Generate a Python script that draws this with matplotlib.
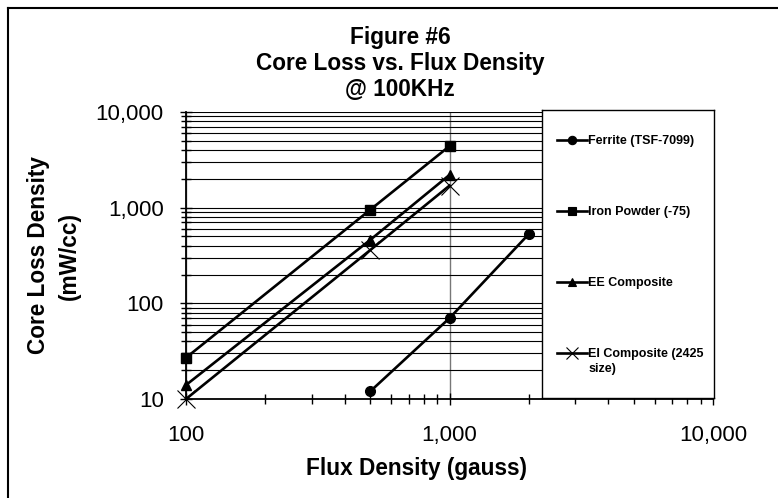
import numpy as np
import matplotlib
matplotlib.use("Agg")
import matplotlib.pyplot as plt
from matplotlib.ticker import LogLocator, FuncFormatter, NullFormatter
from matplotlib.lines import Line2D

plt.rcParams['font.family'] = ['Liberation Sans', 'DejaVu Sans']

# data (flux density in gauss, core loss in mW/cc)
ferrite_x = [500, 1000, 2000]
ferrite_y = [12, 70, 530]
iron_x = [100, 500, 1000]
iron_y = [27, 950, 4400]
ee_x = [100, 500, 1000]
ee_y = [14, 460, 2200]
ei_x = [100, 500, 1000]
ei_y = [10, 360, 1700]

series = [
    ("Ferrite (TSF-7099)", ferrite_x, ferrite_y, "o", 7),
    ("Iron Powder (-75)", iron_x, iron_y, "s", 7),
    ("EE Composite", ee_x, ee_y, "^", 7),
    ("EI Composite (2425", ei_x, ei_y, "x", 13),
]

W, H = 778, 498
fig = plt.figure(figsize=(W / 100, H / 100), dpi=100)

# plot area in pixels
left, right, top, bottom = 186, 713, 112, 399
ax = fig.add_axes([left / W, 1 - bottom / H, (right - left) / W, (bottom - top) / H])
ax.set_xscale("log")
ax.set_yscale("log")
ax.set_xlim(100, 10000)
ax.set_ylim(10, 10000)

for lab, xs, ys, m, ms in series:
    ax.plot(xs, ys, color="black", lw=1.9, marker=m, ms=ms,
            mew=0.8 if m == "x" else 1, label=lab, clip_on=False, zorder=5)

fmt = FuncFormatter(lambda v, p: "{:,.0f}".format(v))
ax.xaxis.set_major_formatter(fmt)
ax.yaxis.set_major_formatter(fmt)
ax.xaxis.set_minor_formatter(NullFormatter())
ax.yaxis.set_minor_formatter(NullFormatter())
ax.yaxis.set_minor_locator(LogLocator(base=10, subs=np.arange(2, 10)))
ax.xaxis.set_minor_locator(LogLocator(base=10, subs=np.arange(2, 10)))

ax.grid(True, which="both", axis="y", color="black", lw=0.8)
ax.grid(True, which="major", axis="x", color="#777777", lw=1)
ax.tick_params(which="both", direction="inout", color="black", width=1)
ax.tick_params(which="major", length=8, labelsize=16)
ax.tick_params(which="minor", length=7)
ax.tick_params(axis="y", which="major", pad=12)
ax.tick_params(axis="x", which="major", pad=15)
ax.spines["top"].set_visible(False)
ax.spines["right"].set_visible(False)
ax.spines["left"].set_linewidth(1.3)
ax.spines["bottom"].set_linewidth(1.3)

ax.set_xlabel("Flux Density (gauss)", fontsize=16.3, fontweight="bold")
ax.xaxis.set_label_coords(0.438, -0.243)
ax.xaxis.label.set_va("center")
ax.set_ylabel("Core Loss Density\n(mW/cc)", fontsize=16.3, fontweight="bold", linespacing=1.42)
ax.yaxis.set_label_coords(-0.2505, 0.5)
ax.yaxis.label.set_va("center")

fig.text(400 / W, 1 - 63.5 / H, "Figure #6\nCore Loss vs. Flux Density\n@ 100KHz",
         ha="center", va="center", fontsize=16.3, fontweight="bold", linespacing=1.14)

# legend box covering the right part of the plot area
lx0, lx1, ly0, ly1 = 542, 714, 110, 398
lax = fig.add_axes([lx0 / W, 1 - ly1 / H, (lx1 - lx0) / W, (ly1 - ly0) / H])
lax.set_xticks([])
lax.set_yticks([])
lax.set_facecolor("white")
for s in lax.spines.values():
    s.set_linewidth(1)
handles, labels = ax.get_legend_handles_labels()
handles = [Line2D([], [], color="black", lw=1.9, marker=h.get_marker(),
                  ms=6 if h.get_marker() != "x" else 8, mew=0.8) for h in handles]
leg = lax.legend(handles, labels, loc="upper left",
                 bbox_to_anchor=((557 - lx0) / (lx1 - lx0), 1 - (135 - ly0) / (ly1 - ly0)),
                 frameon=False, prop={"size": 9, "weight": "bold"},
                 handlelength=2.4, handletextpad=0.1, labelspacing=4.73,
                 borderaxespad=0, borderpad=0)
# wrapped second line of the last legend label
lax.annotate("size)", xy=(0, 0), xycoords=leg.get_texts()[3],
             xytext=(0, -15), textcoords="offset pixels",
             ha="left", va="bottom", fontsize=9, fontweight="bold", zorder=10)

# border of the surrounding frame (only top and left visible)
fig.add_artist(Line2D([8 / W, 1], [1 - 8 / H, 1 - 8 / H], color="black", lw=1.5))
fig.add_artist(Line2D([8 / W, 8 / W], [0, 1 - 8 / H], color="black", lw=1.5))

fig.savefig("out.png", dpi=100)
